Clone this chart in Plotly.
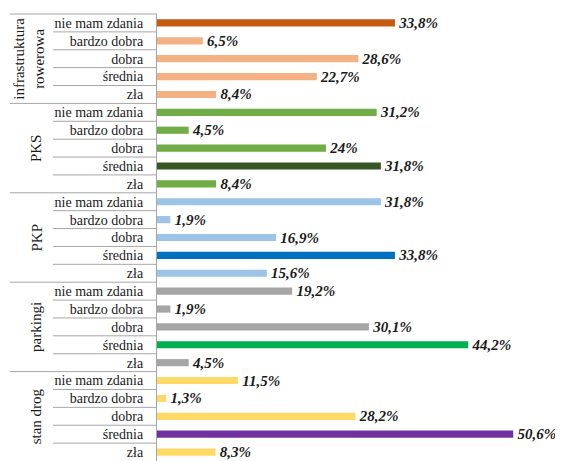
import plotly.graph_objects as go

groups = ["infrastruktura<br>rowerowa", "PKS", "PKP", "parkingi", "stan drog"]
categories = ["nie mam zdania", "bardzo dobra", "dobra", "średnia", "zła"]

infra_values = [33.8, 6.5, 28.6, 22.7, 8.4]
pks_values = [31.2, 4.5, 24, 31.8, 8.4]
pkp_values = [31.8, 1.9, 16.9, 33.8, 15.6]
parking_values = [19.2, 1.9, 30.1, 44.2, 4.5]
roads_values = [11.5, 1.3, 28.2, 50.6, 8.3]

infra_colors = ["#C55A11", "#F4B183", "#F4B183", "#F4B183", "#F4B183"]
pks_colors = ["#70AD47", "#70AD47", "#70AD47", "#375623", "#70AD47"]
pkp_colors = ["#9DC3E6", "#9DC3E6", "#9DC3E6", "#0070C0", "#9DC3E6"]
parking_colors = ["#A5A5A5", "#A5A5A5", "#A5A5A5", "#00B050", "#A5A5A5"]
roads_colors = ["#FFD966", "#FFD966", "#FFD966", "#7030A0", "#FFD966"]

all_values = [infra_values, pks_values, pkp_values, parking_values, roads_values]
all_colors = [infra_colors, pks_colors, pkp_colors, parking_colors, roads_colors]

values, colors, labels, texts = [], [], [], []
for vals, cols in zip(all_values, all_colors):
    for c, v, col in zip(categories, vals, cols):
        values.append(v)
        colors.append(col)
        labels.append(c)
        texts.append("\u200a" + f"{v:g}".replace(".", ",") + "%")

n = len(values)
pos = list(range(n))

OFF = 8  # browser body margin
W, H = 555, 453
ml, mr, mt, mb = 157 - OFF, 10, 14 - OFF, 0
pw = W - ml - mr
ph = H - mt - mb
px_per_unit = 7.04
xmax = pw / px_per_unit

fig = go.Figure(go.Bar(
    x=values, y=pos, orientation="h",
    marker=dict(color=colors, line=dict(width=0)),
    width=0.4,
    text=texts, textposition="outside", constraintext="none",
    textfont=dict(family="Liberation Serif", size=15, color="#1a1a1a",
                  weight="bold", style="italic"),
    cliponaxis=False,
    hoverinfo="skip",
))

shapes = []
line_color = "#A6A6A6"
def paper_x(px):
    return (px - OFF - ml) / pw
for i in range(n):
    yb = 1 - i / n
    x0 = paper_x(10) if i % 5 == 0 else paper_x(53)
    shapes.append(dict(type="line", xref="paper", yref="paper",
                       x0=x0, x1=0, y0=yb, y1=yb,
                       line=dict(color=line_color, width=1)))

annotations = []
for g, name in enumerate(groups):
    yc = 1 - (g * 5 + 2.5) / n
    annotations.append(dict(
        text=name, xref="paper", yref="paper",
        x=paper_x(29 if g == 0 else 36), y=yc,
        xanchor="center", yanchor="middle",
        textangle=-90, showarrow=False,
        font=dict(family="Liberation Serif", size=15, color="#1a1a1a"),
    ))

fig.update_layout(
    width=W, height=H,
    margin=dict(l=ml, r=mr, t=mt, b=mb, pad=0),
    paper_bgcolor="white", plot_bgcolor="white",
    showlegend=False,
    shapes=shapes, annotations=annotations,
    xaxis=dict(range=[0, xmax], visible=False, fixedrange=True),
    yaxis=dict(
        range=[n - 0.5, -0.5],
        tickmode="array", tickvals=pos, ticktext=labels,
        tickfont=dict(family="Liberation Serif", size=14, color="#1a1a1a"),
        showline=True, linecolor=line_color, linewidth=1,
        showgrid=False, zeroline=False,
        ticks="", ticklabelstandoff=10,
    ),
)

fig.write_html("out.html")
